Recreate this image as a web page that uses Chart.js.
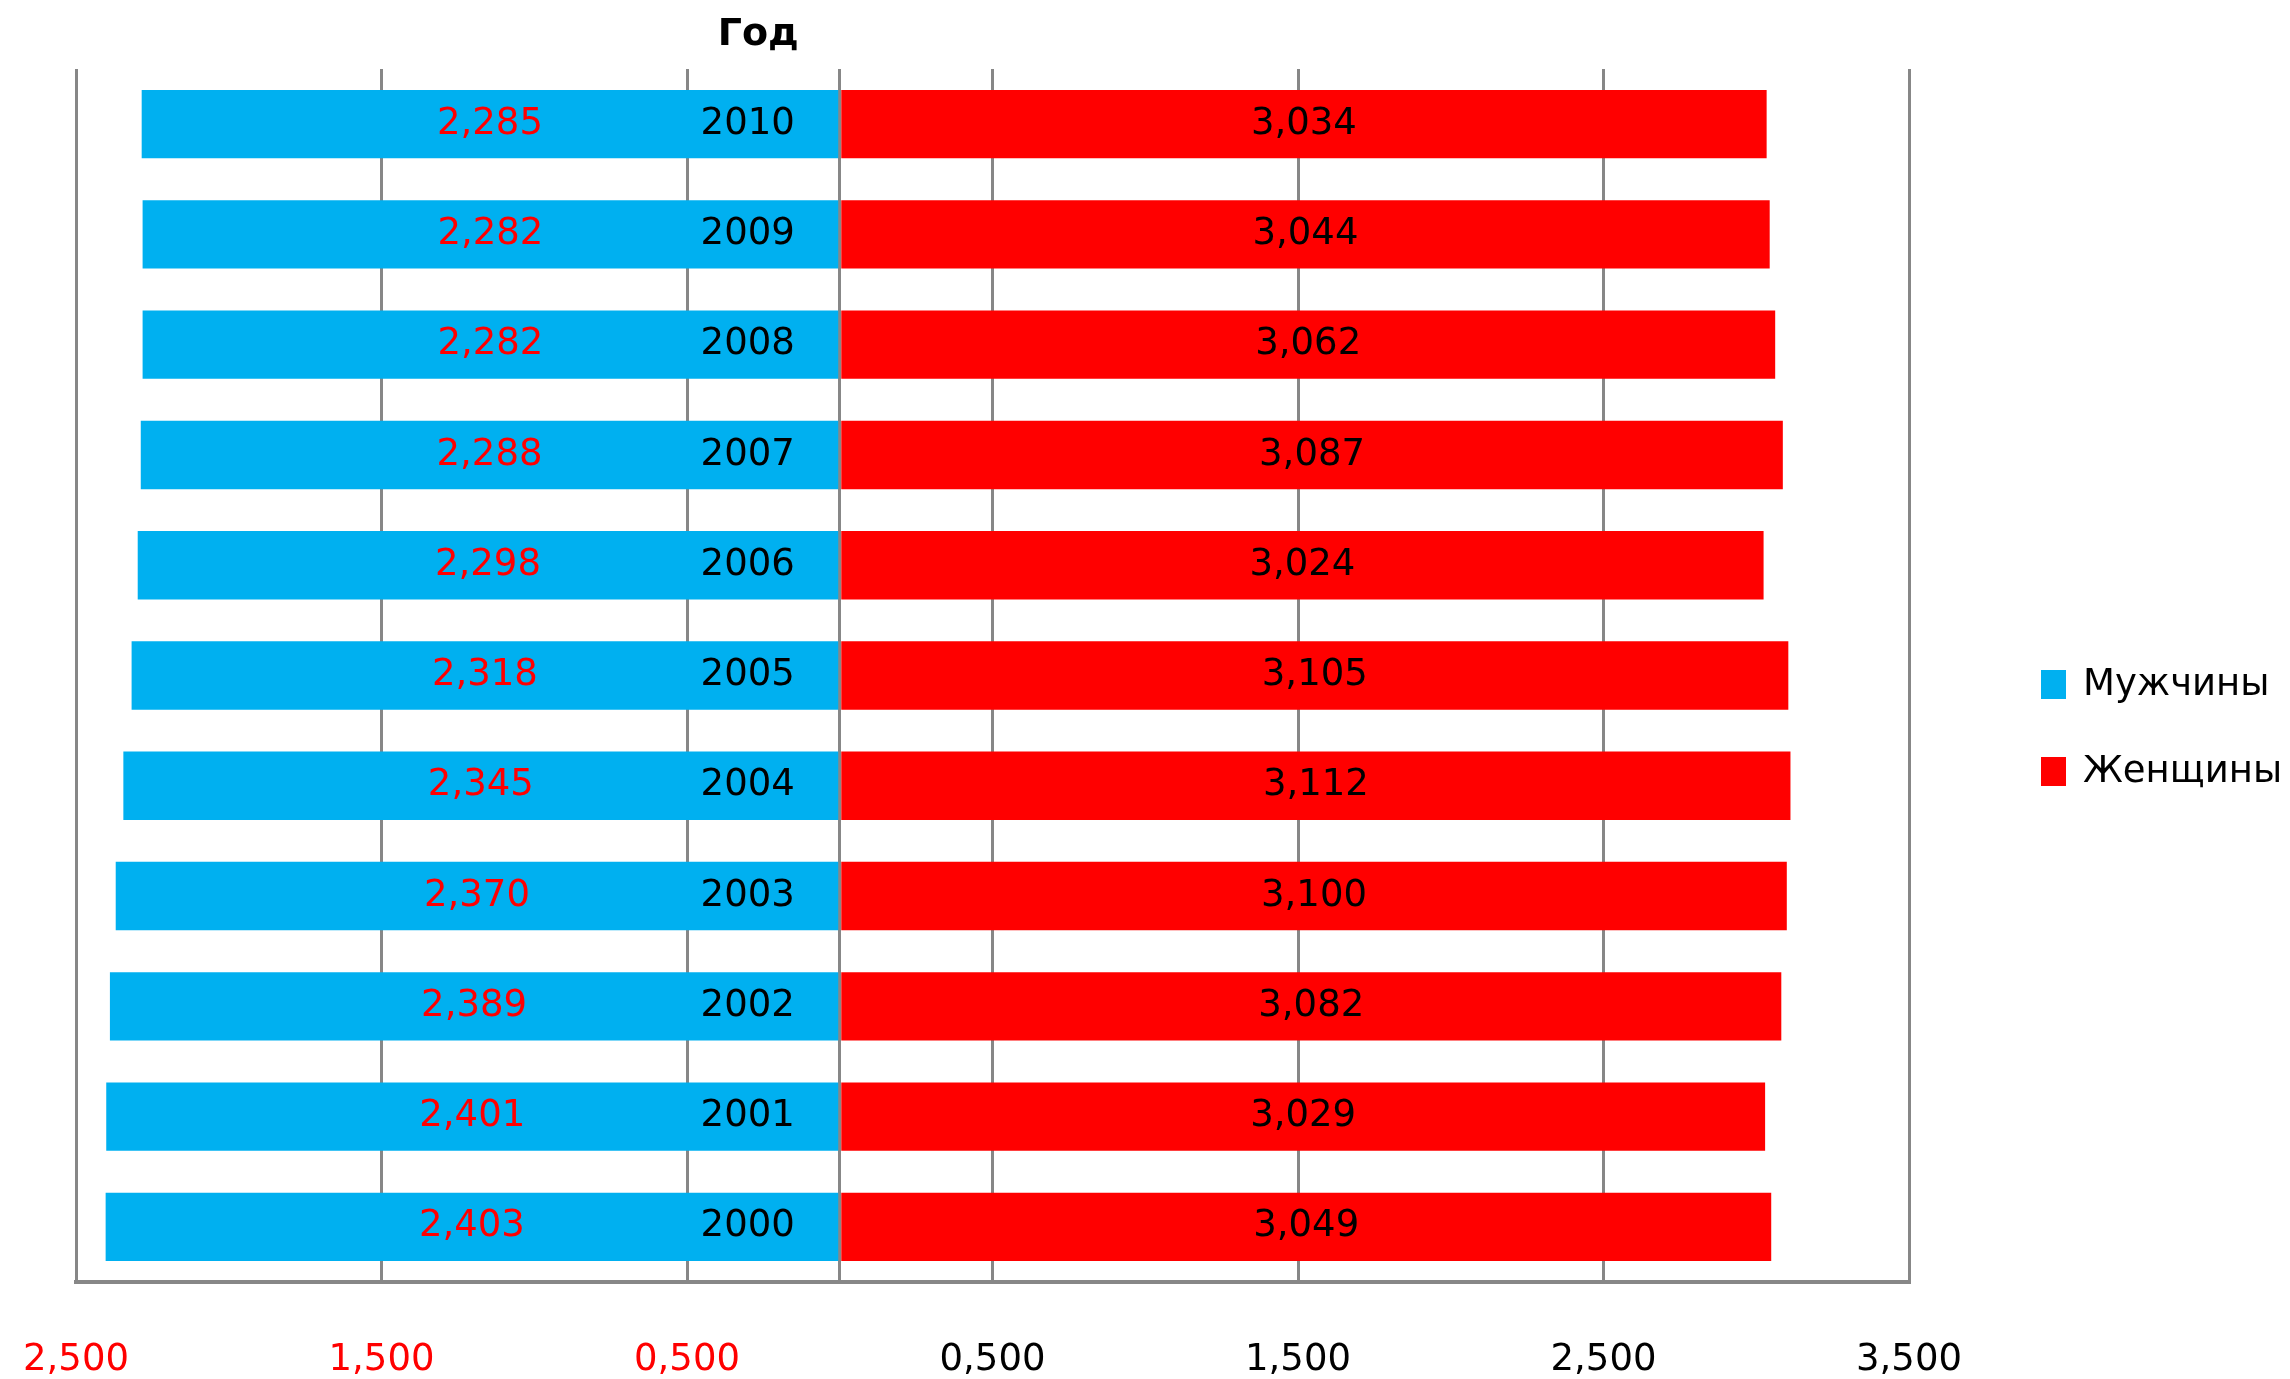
<!DOCTYPE html>
<html>
<head>
<meta charset="utf-8">
<script src="https://cdn.jsdelivr.net/npm/chart.js@4"></script>
<style>
  body { margin: 0; background: #fff; }
  canvas { display: block; }
</style>
</head>
<body>
<canvas id="chart__pyramid-canvas" width="2290" height="1379"></canvas>
<script>
const chartPyramid = document.getElementById("chart__pyramid-canvas");

const years = ["2010", "2009", "2008", "2007", "2006", "2005", "2004", "2003", "2002", "2001", "2000"];
const men = [2.285, 2.282, 2.282, 2.288, 2.298, 2.318, 2.345, 2.37, 2.389, 2.401, 2.403];
const women = [3.034, 3.044, 3.062, 3.087, 3.024, 3.105, 3.112, 3.1, 3.082, 3.029, 3.049];
const xTicks = [-2.5, -1.5, -0.5, 0, 0.5, 1.5, 2.5, 3.5];

const FONT = "'DejaVu Sans', sans-serif";
const fmt = (v) => Math.abs(v).toFixed(3).replace(".", ",");

// year labels, value labels, "Год" and the legend are painted here
const labelsPlugin = {
  id: "pyramidLabels",
  afterDatasetsDraw(chart) {
    const ctx = chart.ctx;
    const x = chart.scales.x;
    const y = chart.scales.y;
    const zero = x.getPixelForValue(0);
    ctx.save();
    ctx.font = "37px " + FONT;
    ctx.textBaseline = "middle";

    chart.data.datasets.forEach((ds, i) => {
      const meta = chart.getDatasetMeta(i);
      meta.data.forEach((bar, j) => {
        ctx.fillStyle = i === 0 ? "#ff0000" : "#000000";
        ctx.textAlign = "center";
        ctx.fillText(fmt(ds.data[j]), (bar.x + bar.base) / 2, bar.y);
      });
    });

    ctx.fillStyle = "#000";
    ctx.textAlign = "right";
    years.forEach((yr, j) => {
      ctx.fillText(yr, zero - 45, y.getPixelForValue(j));
    });

    ctx.font = "bold 38px " + FONT;
    ctx.fillText("Год", zero - 41, chart.chartArea.top - 34);

    // legend
    const lx = chart.chartArea.right + 132;
    const mid = (chart.chartArea.top + chart.chartArea.bottom) / 2 + 52;
    ctx.font = "37px " + FONT;
    ctx.textAlign = "left";
    chart.data.datasets.forEach((ds, i) => {
      const cy = mid + (i - 0.5) * 87;
      ctx.fillStyle = ds.backgroundColor;
      ctx.fillRect(lx, cy - 14, 25, 29);
      ctx.fillStyle = "#000";
      ctx.fillText(ds.label, lx + 42, cy + 1);
    });
    ctx.restore();
  },
};

new Chart(chartPyramid, {
  type: "bar",
  data: {
    labels: years,
    datasets: [
      {
        label: "Мужчины",
        data: men.map((v) => -v),
        backgroundColor: "#00b0f0",
        barPercentage: 0.62,
        categoryPercentage: 1,
      },
      {
        label: "Женщины",
        data: women,
        backgroundColor: "#ff0000",
        barPercentage: 0.62,
        categoryPercentage: 1,
      },
    ],
  },
  options: {
    indexAxis: "y",
    responsive: false,
    devicePixelRatio: 1,
    animation: false,
    layout: {
      padding: { top: 69, left: 76, right: 381, bottom: 0 },
    },
    scales: {
      x: {
        stacked: true,
        min: -2.5,
        max: 3.5,
        afterBuildTicks: (scale) => {
          scale.ticks = xTicks.map((v) => ({ value: v }));
        },
        grid: {
          color: "#878787",
          lineWidth: 3,
          drawTicks: true,
          tickLength: 60,
          tickColor: "rgba(0,0,0,0)",
        },
        border: { color: "#878787", width: 4 },
        ticks: {
          autoSkip: false,
          maxRotation: 0,
          padding: 0,
          font: { family: FONT, size: 37, lineHeight: 1 },
          color: (c) => (c.tick && c.tick.value < 0 ? "#ff0000" : "#000000"),
          callback: (value) => (value === 0 ? "" : fmt(value)),
        },
      },
      y: {
        display: false,
        stacked: true,
      },
    },
    plugins: {
      legend: { display: false },
      tooltip: { enabled: false },
    },
  },
  plugins: [labelsPlugin],
});
</script>
</body>
</html>
